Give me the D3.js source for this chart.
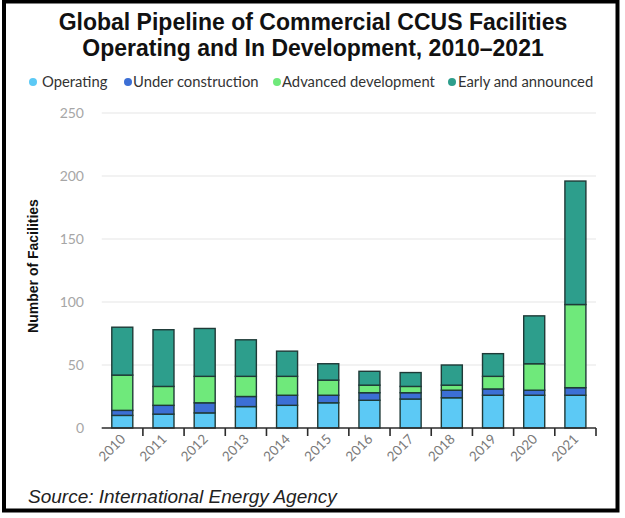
<!DOCTYPE html>
<html><head><meta charset="utf-8">
<script src="https://cdn.jsdelivr.net/npm/d3@7"></script>
<style>body{margin:0;background:#fff}svg{display:block}</style>
</head><body>
<svg id="c" width="625" height="518"></svg>
<script>
const years = ["2010","2011","2012","2013","2014","2015","2016","2017","2018","2019","2020","2021"];
const operating = [10,11,12,17,18,20,22,23,24,26,26,26];
const underConstruction = [4,7,8,8,8,6,6,5,6,5,4,6];
const advancedDevelopment = [28,15,21,16,15,12,6,5,4,10,21,66];
const earlyAnnounced = [38,45,38,29,20,13,11,11,16,18,38,98];
const seriesNames = ["Operating","Under construction","Advanced development","Early and announced"];
const seriesColors = ["#5cc9f5","#3c6fd5","#6fe97b","#2d9e8c"];
const yTicks = [0,50,100,150,200,250];

const svg = d3.select("#c");
const W = 625, H = 518;
svg.append("rect").attr("x",0).attr("y",0).attr("width",W).attr("height",H).attr("fill","#fff");
svg.append("rect").attr("x",4).attr("y",1.5).attr("width",613.5).attr("height",509).attr("fill","none").attr("stroke","#000").attr("stroke-width",4);

// Title
const title = svg.append("text").attr("text-anchor","middle").attr("font-family","Liberation Sans, Arial, sans-serif").attr("font-weight","bold").attr("font-size",23).attr("fill","#111");
title.append("tspan").attr("x",313).attr("y",30).text("Global Pipeline of Commercial CCUS Facilities");
title.append("tspan").attr("x",313).attr("y",56).text("Operating and In Development, 2010\u20132021");

// Legend
const legX = [33,128,277,452];
const legTX = [42,133,282,458];
const lg = svg.append("g").attr("font-family","Lato, 'Open Sans', sans-serif").attr("font-size",14.8).attr("fill","#333");
seriesNames.forEach((n,i)=>{
  lg.append("circle").attr("cx",legX[i]).attr("cy",82).attr("r",4).attr("fill",seriesColors[i]);
  lg.append("text").attr("x",legTX[i]).attr("y",87).text(n);
});

const x = d3.scaleBand().domain(years).range([101.7,596]).paddingInner(0.49).paddingOuter(0.245);
const y = d3.scaleLinear().domain([0,250]).range([428,113]);

// gridlines
svg.append("g").selectAll("line").data(yTicks.filter(d=>d>0)).join("line")
  .attr("x1",101.7).attr("x2",596).attr("y1",d=>y(d)).attr("y2",d=>y(d))
  .attr("stroke","#e6e6e6").attr("stroke-width",1.2);

// y tick labels
svg.append("g").selectAll("text").data(yTicks).join("text")
  .attr("x",84).attr("y",d=>y(d)+5).attr("text-anchor","end")
  .attr("font-family","Lato, 'Open Sans', sans-serif").attr("font-size",14).attr("fill","#a6a6a6").text(d=>d);

// y axis title
svg.append("text").attr("transform","translate(38,266) rotate(-90)").attr("text-anchor","middle")
  .attr("font-family","Liberation Sans, Arial, sans-serif").attr("font-weight","bold").attr("font-size",14).attr("fill","#111")
  .text("Number of Facilities");

// stacked data
const table = years.map((yr,i)=>({year:yr, s0:operating[i], s1:underConstruction[i], s2:advancedDevelopment[i], s3:earlyAnnounced[i]}));
const stack = d3.stack().keys(["s0","s1","s2","s3"])(table);
svg.append("g").selectAll("g").data(stack).join("g").attr("fill",(d,i)=>seriesColors[i])
  .selectAll("rect").data(d=>d).join("rect")
  .attr("x",d=>x(d.data.year)).attr("width",x.bandwidth())
  .attr("y",d=>y(d[1])).attr("height",d=>y(d[0])-y(d[1]))
  .attr("stroke","#1f3a37").attr("stroke-width",1.4);

// x axis
const xa = svg.append("g");
xa.append("line").attr("x1",101.7).attr("x2",596).attr("y1",428).attr("y2",428).attr("stroke","#2b2b2b").attr("stroke-width",1.6);
const bounds = years.map((d,i)=>i+1);
xa.selectAll("line.t").data(bounds).join("line").attr("class","t")
  .attr("x1",d=>x.range()[0]+d*x.step()).attr("x2",d=>x.range()[0]+d*x.step())
  .attr("y1",428).attr("y2",436).attr("stroke","#2b2b2b").attr("stroke-width",1.6);
xa.selectAll("text").data(years).join("text")
  .attr("transform",d=>`translate(${x(d)+x.bandwidth()/2+4},${440}) rotate(-45)`)
  .attr("text-anchor","end").attr("font-family","Lato, 'Open Sans', sans-serif").attr("font-size",13.5).attr("fill","#7a7a7a").text(d=>d);

// source
svg.append("text").attr("x",28).attr("y",503).attr("font-family","Liberation Sans, Arial, sans-serif").attr("font-style","italic").attr("font-size",19).attr("fill","#222").text("Source: International Energy Agency");
</script>
</body></html>
